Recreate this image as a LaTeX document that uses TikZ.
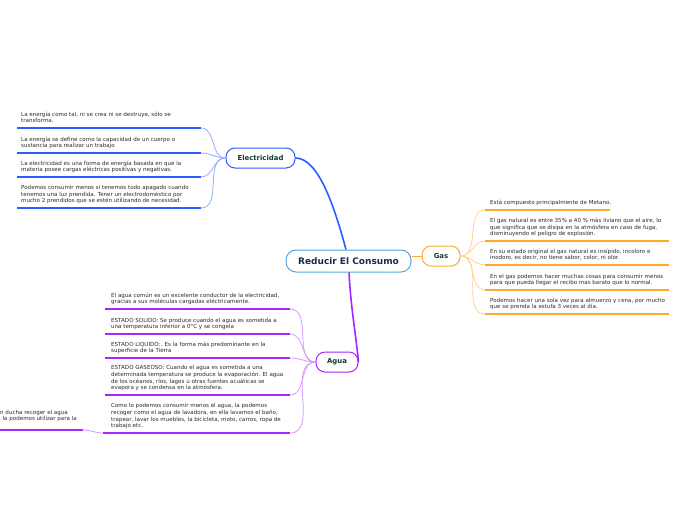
\documentclass[tikz,border=0pt]{standalone}
\usepackage{fontspec}
\setmainfont{DejaVu Sans}
\definecolor{eblue}{HTML}{2D5BFF}
\definecolor{elight}{HTML}{93ACFF}
\definecolor{gorange}{HTML}{FFAA2A}
\definecolor{glight}{HTML}{FFD393}
\definecolor{apurple}{HTML}{A526FF}
\definecolor{alight}{HTML}{D699FF}
\definecolor{cborder}{HTML}{55A5E0}
\definecolor{txt}{HTML}{2A2A2A}
\definecolor{ttl}{HTML}{1B2A4E}
\definecolor{btxt}{HTML}{0F3D33}
\tikzset{
  leaf/.style={inner sep=0pt, anchor=south west, align=left, text=txt,
    font=\fontsize{5.55}{6.7}\selectfont, execute at end node=\strut},
  central/.style={draw=cborder, line width=1pt, fill=white, rounded corners=10pt,
    minimum width=125pt, minimum height=22pt, inner sep=0pt, text=ttl,
    font=\bfseries\fontsize{9}{10}\selectfont},
  branch/.style={line width=1pt, fill=white, rounded corners=9pt,
    minimum height=20pt, inner sep=0pt, text=btxt,
    font=\bfseries\fontsize{6.9}{7.5}\selectfont},
  ethick/.style={draw=eblue, line width=1.5pt},
  ethin/.style={draw=elight, line width=0.8pt},
  gthick/.style={draw=gorange, line width=1.5pt},
  gthin/.style={draw=glight, line width=0.8pt},
  athick/.style={draw=apurple, line width=1.5pt},
  athin/.style={draw=alight, line width=0.8pt},
}
\begin{document}
\begin{tikzpicture}[x=1pt,y=-1pt]
\useasboundingbox (0,0) rectangle (696,520);

% main nodes
\node[central] (c) at (348.5,261) {Reducir El Consumo};
\node[branch, draw=eblue, minimum width=69pt] (elec) at (260.5,158) {Electricidad};
\node[branch, draw=gorange, minimum width=38pt] (gas) at (441,256) {Gas};
\node[branch, draw=apurple, minimum width=42pt] (agua) at (337,362) {Agua};

% main connectors
\draw[draw=eblue, line width=1.6pt] (c.north -| 346,0) .. controls (334,205) and (318,158) .. (elec.east);
\draw[draw=gorange, line width=1pt] (c.east |- gas.west) -- (gas.west);
\draw[draw=apurple, line width=1.6pt] (c.south -| 349,0) .. controls (351,310) and (356,335) .. (agua.east);

% Electricidad leaves
\coordinate (e1a) at (17,128); \coordinate (e1b) at (201,128);
\coordinate (e2a) at (17,153); \coordinate (e2b) at (201,153);
\coordinate (e3a) at (17,177); \coordinate (e3b) at (201,177);
\coordinate (e4a) at (17,208); \coordinate (e4b) at (201,208);
\node[leaf] (e1) at (21,125) {La energía como tal, ni se crea ni se destruye, sólo se\\transforma.};
\node[leaf] (e2) at (21,150) {La energía se define como la capacidad de un cuerpo o\\sustancia para realizar un trabajo};
\node[leaf] (e3) at (21,174) {La electricidad es una forma de energía basada en que la\\materia posee cargas eléctricas positivas y negativas.};
\node[leaf] (e4) at (21,205) {Podemos consumir menos si tenemos todo apagado cuando\\tenemos una luz prendida. Tener un electrodoméstico por\\mucho 2 prendidos que se estén utilizando de necesidad.};
\foreach \i in {1,2,3,4}{
  \draw[ethick] (e\i a) -- (e\i b);
  \draw[ethin] (e\i b) to[out=0,in=180] (elec.west);
}

% Gas leaves
\coordinate (g1a) at (485,210); \coordinate (g1b) at (610,210);
\coordinate (g2a) at (485,241); \coordinate (g2b) at (669,241);
\coordinate (g3a) at (485,265); \coordinate (g3b) at (669,265);
\coordinate (g4a) at (485,290); \coordinate (g4b) at (669,290);
\coordinate (g5a) at (485,314); \coordinate (g5b) at (669,314);
\node[leaf] (g1) at (490,207) {Está compuesto principalmente de Metano.};
\node[leaf] (g2) at (490,238) {El gas natural es entre 35\% a 40 \% más liviano que el aire, lo\\que significa que se disipa en la atmósfera en caso de fuga,\\disminuyendo el peligro de explosión.};
\node[leaf] (g3) at (490,262) {En su estado original el gas natural es insípido, incoloro e\\inodoro, es decir, no tiene sabor, color, ni olor.};
\node[leaf] (g4) at (490,287) {En el gas podemos hacer muchas cosas para consumir menos\\para que pueda llegar el recibo mas barato que lo normal.};
\node[leaf] (g5) at (490,311) {Podemos hacer una sola vez para almuerzo y cena, por mucho\\que se prenda la estufa 3 veces al día.};
\foreach \i in {1,2,3,4,5}{
  \draw[gthick] (g\i a) -- (g\i b);
  \draw[gthin] (gas.east) to[out=0,in=180] (g\i a);
}

% Agua leaves
\coordinate (a1a) at (105,309); \coordinate (a1b) at (290,309);
\coordinate (a2a) at (105,334); \coordinate (a2b) at (290,334);
\coordinate (a3a) at (105,358); \coordinate (a3b) at (290,358);
\coordinate (a4a) at (105,395); \coordinate (a4b) at (290,395);
\coordinate (a5a) at (103,433); \coordinate (a5b) at (290,433);
\node[leaf] (a1) at (111,306) {El agua común es un excelente conductor de la electricidad,\\gracias a sus moléculas cargadas eléctricamente.};
\node[leaf] (a2) at (111,331) {ESTADO SOLIDO: Se produce cuando el agua es sometida a\\una temperatura inferior a 0°C y se congela};
\node[leaf] (a3) at (111,355) {ESTADO LIQUIDO:. Es la forma más predominante en la\\superficie de la Tierra};
\node[leaf] (a4) at (111,392) {ESTADO GASEOSO: Cuando el agua es sometida a una\\determinada temperatura se produce la evaporación. El agua\\de los océanos, ríos, lagos u otras fuentes acuáticas se\\evapora y se condensa en la atmósfera.};
\node[leaf] (a5) at (111,430) {Como lo podemos consumir menos el agua, la podemos\\recoger como el agua de lavadora, en ella lavamos el baño,\\trapear, lavar los muebles, la bicicleta, moto, carros, ropa de\\trabajo etc.};
\foreach \i in {1,2,3,4,5}{
  \draw[athick] (a\i a) -- (a\i b);
  \draw[athin] (a\i b) to[out=0,in=180] (agua.west);
}

% sub-leaf (clipped at left edge)
\coordinate (s1a) at (-5,430); \coordinate (s1b) at (83,430);
\node[leaf] (s1) at (0,423) {n ducha recoger el agua\\\hspace*{2.5pt}la podemos utilizar para la};
\draw[athick] (s1a) -- (s1b);
\draw[athin] (a5a) to[out=180,in=0] (s1b);
\end{tikzpicture}
\end{document}
